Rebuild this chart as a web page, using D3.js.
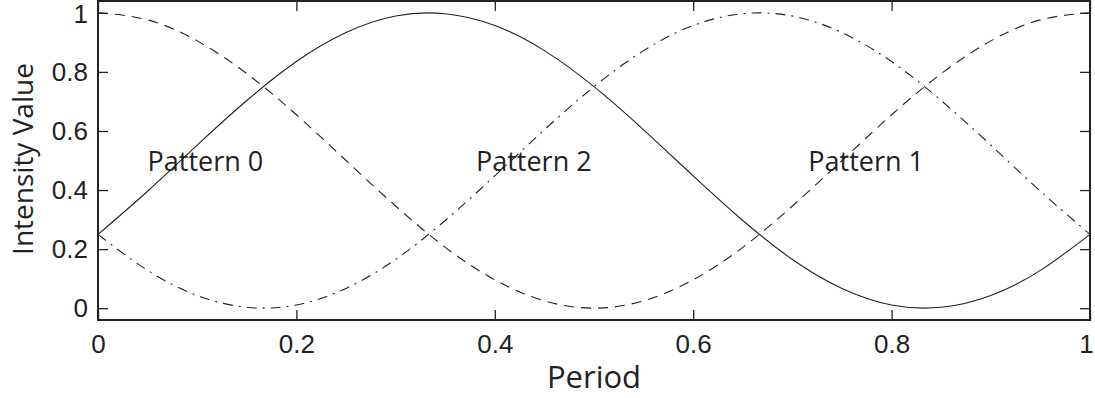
<!DOCTYPE html>
<html>
<head>
<meta charset="utf-8">
<script src="https://cdn.jsdelivr.net/npm/d3@7"></script>
<style>
  body { margin: 0; background: #fff; }
  svg { display: block; font-family: "Open Sans", "Liberation Sans", sans-serif; }
</style>
</head>
<body>
<svg id="chart"></svg>
<script>
// sample positions along one period
const period = [0, 0.05, 0.1, 0.15, 0.2, 0.25, 0.3, 0.35, 0.4, 0.45, 0.5,
  0.55, 0.6, 0.65, 0.7, 0.75, 0.8, 0.85, 0.9, 0.95, 1];

// Pattern 0 (solid)
const pattern0 = [0.25, 0.396, 0.552, 0.703, 0.835, 0.933, 0.989, 0.997, 0.957, 0.872, 0.75,
  0.604, 0.448, 0.297, 0.165, 0.067, 0.011, 0.003, 0.043, 0.128, 0.25];
// Pattern 1 (dashed)
const pattern1 = [1, 0.976, 0.905, 0.794, 0.655, 0.5, 0.346, 0.206, 0.096, 0.025, 0,
  0.025, 0.096, 0.206, 0.346, 0.5, 0.655, 0.794, 0.905, 0.976, 1];
// Pattern 2 (dash-dot)
const pattern2 = [0.25, 0.128, 0.043, 0.003, 0.011, 0.067, 0.165, 0.297, 0.448, 0.604, 0.75,
  0.872, 0.957, 0.997, 0.989, 0.933, 0.835, 0.703, 0.552, 0.396, 0.25];

const xTicks = [0, 0.2, 0.4, 0.6, 0.8, 1];
const yTicks = [0, 0.2, 0.4, 0.6, 0.8, 1];

const labels = [
  { text: "Pattern 0", x: 0.05, y: 0.465 },
  { text: "Pattern 2", x: 0.381, y: 0.465 },
  { text: "Pattern 1", x: 0.716, y: 0.465 }
];

const W = 1095, H = 398;
const margin = { top: 1, right: 5, bottom: 78, left: 98 };
const width = W - margin.left - margin.right;
const height = H - margin.top - margin.bottom;

const svg = d3.select("#chart").attr("width", W).attr("height", H);
const g = svg.append("g").attr("transform", `translate(${margin.left},${margin.top})`);

const x = d3.scaleLinear().domain([0, 1]).range([0, width]);
const y = d3.scaleLinear().domain([-0.04, 1.04]).range([height, 0]);

const line = d3.line()
  .x((d, i) => x(period[i]))
  .y(d => y(d))
  .curve(d3.curveNatural);

const series = [
  { values: pattern0, dash: null },
  { values: pattern1, dash: "10,7" },
  { values: pattern2, dash: "10,6,2,6" }
];

g.selectAll(".series")
  .data(series)
  .enter().append("path")
  .attr("class", "series")
  .attr("d", d => line(d.values))
  .attr("fill", "none")
  .attr("stroke", "#222")
  .attr("stroke-width", 1.1)
  .attr("stroke-dasharray", d => d.dash);

// axes, ticks pointing inward
const tickFont = "26px";
const axBottom = g.append("g")
  .attr("transform", `translate(0,${height})`)
  .call(d3.axisBottom(x).tickValues(xTicks).tickSizeInner(-10).tickSizeOuter(0).tickPadding(15).tickFormat(d3.format("")));
const axLeft = g.append("g")
  .call(d3.axisLeft(y).tickValues(yTicks).tickSizeInner(-10).tickSizeOuter(0).tickPadding(10).tickFormat(d3.format("")));
const axTop = g.append("g")
  .call(d3.axisTop(x).tickValues(xTicks).tickSizeInner(-10).tickSizeOuter(0).tickFormat(""));
const axRight = g.append("g")
  .attr("transform", `translate(${width},0)`)
  .call(d3.axisRight(y).tickValues(yTicks).tickSizeInner(-10).tickSizeOuter(0).tickFormat(""));

[axBottom, axLeft, axTop, axRight].forEach(a => {
  a.select(".domain").remove();
  a.selectAll(".tick line").attr("stroke", "#222").attr("stroke-width", 1.3);
  a.selectAll("text").style("font-size", tickFont).attr("fill", "#222");
});
axBottom.selectAll(".tick:last-of-type text").attr("text-anchor", "end").attr("dx", "0.12em");
axLeft.selectAll(".tick:last-of-type text").attr("dy", "0.36em");

// frame
g.append("rect")
  .attr("x", 0).attr("y", 0)
  .attr("width", width).attr("height", height)
  .attr("fill", "none")
  .attr("stroke", "#222")
  .attr("stroke-width", 2);

g.selectAll(".plabel")
  .data(labels)
  .enter().append("text")
  .attr("class", "plabel")
  .attr("x", d => x(d.x))
  .attr("y", d => y(d.y))
  .attr("fill", "#222")
  .style("font-size", "27px")
  .text(d => d.text);

g.append("text")
  .attr("x", width / 2)
  .attr("y", height + 68)
  .attr("text-anchor", "middle")
  .attr("fill", "#222")
  .style("font-size", "31px")
  .text("Period");

g.append("text")
  .attr("transform", "rotate(-90)")
  .attr("x", -158)
  .attr("y", -65)
  .attr("text-anchor", "middle")
  .attr("fill", "#222")
  .style("font-size", "28px")
  .text("Intensity Value");
</script>
</body>
</html>
